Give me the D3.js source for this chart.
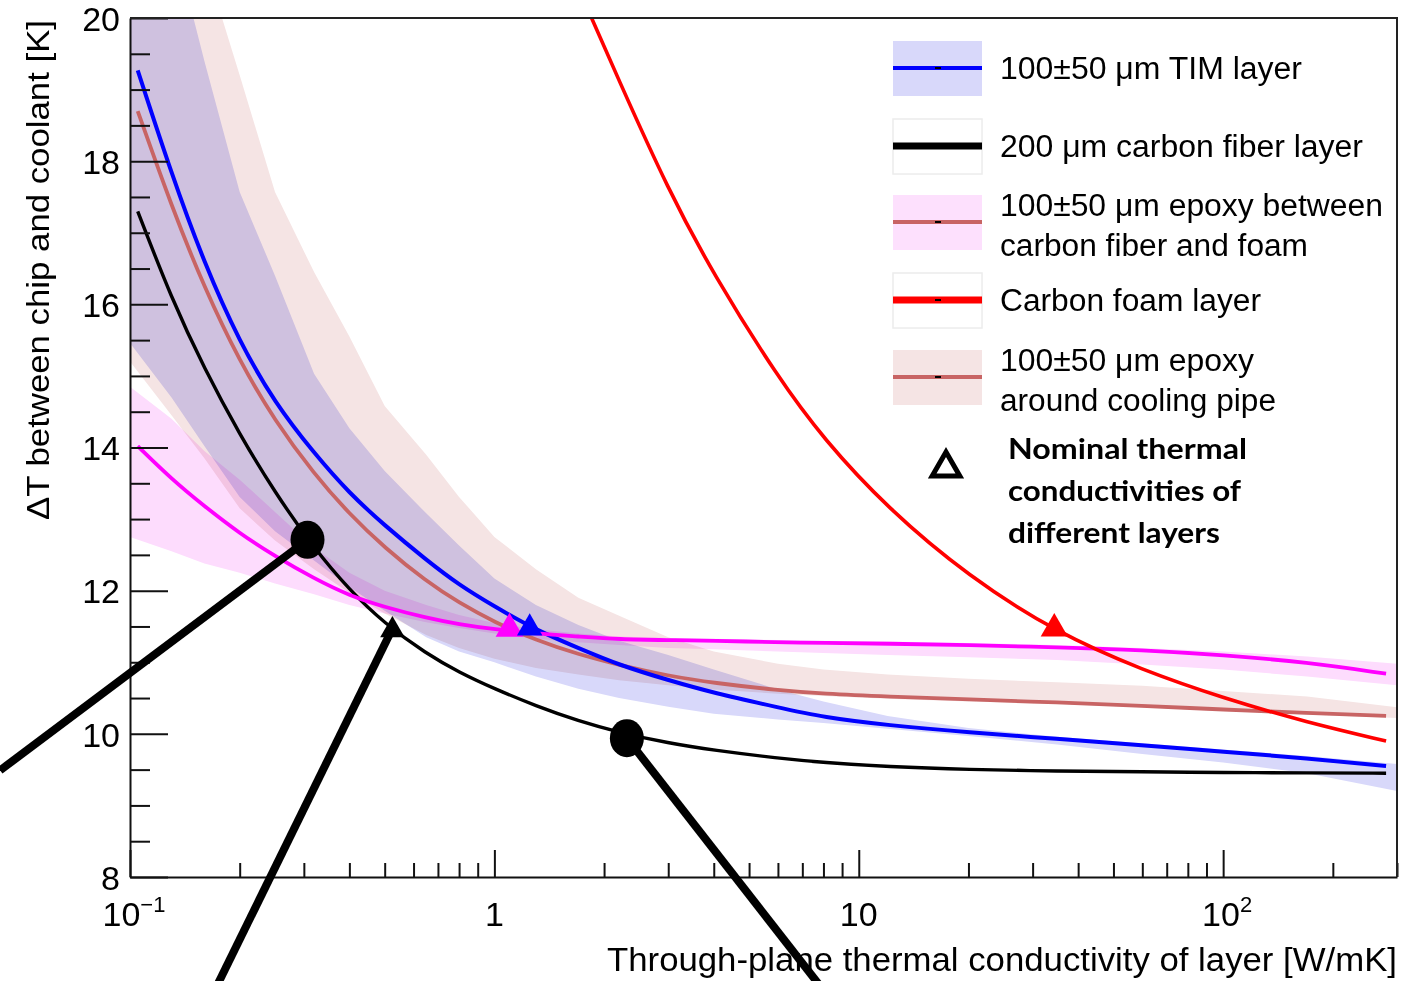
<!DOCTYPE html>
<html>
<head>
<meta charset="utf-8">
<script src="https://cdn.jsdelivr.net/npm/d3@7"></script>
<style>
  body { margin: 0; background: #fff; }
  text { font-family: "Liberation Sans", Arial, sans-serif; fill: #000; }
</style>
</head>
<body>
<div id="chart"></div>
<script>
// thermal conductivity of the varied layer [W/mK], grid for the curves
var kCurve = [0.105, 0.13, 0.16, 0.2, 0.25, 0.32, 0.4, 0.5, 0.65, 0.8, 1, 1.3, 1.7, 2.2, 3, 4, 6, 8, 12, 20, 35, 60, 100, 170, 280];
// delta T chip-coolant [K] for each layer
var dtTim         = [19.27, 17.82, 16.57, 15.47, 14.62, 13.92, 13.36, 12.91, 12.43, 12.08, 11.78, 11.45, 11.2, 10.96, 10.75, 10.57, 10.37, 10.23, 10.12, 10.02, 9.93, 9.84, 9.75, 9.66, 9.55];
var dtCarbonFiber = [17.3, 16.08, 15.1, 14.18, 13.37, 12.59, 12.01, 11.54, 11.12, 10.86, 10.63, 10.39, 10.18, 10.02, 9.87, 9.77, 9.66, 9.6, 9.54, 9.5, 9.48, 9.47, 9.46, 9.455, 9.45];
var dtEpoxyFoam   = [14.02, 13.56, 13.18, 12.8, 12.48, 12.17, 11.93, 11.77, 11.62, 11.53, 11.46, 11.4, 11.36, 11.32, 11.31, 11.3, 11.28, 11.27, 11.26, 11.24, 11.21, 11.17, 11.1, 11.0, 10.84];
var dtEpoxyPipe   = [18.7, 17.37, 16.23, 15.2, 14.37, 13.63, 13.07, 12.6, 12.13, 11.83, 11.56, 11.31, 11.11, 10.96, 10.81, 10.71, 10.61, 10.56, 10.52, 10.48, 10.44, 10.39, 10.34, 10.29, 10.25];
// carbon foam curve, only the part inside the frame
var kFoam  = [1.7, 2.2, 3, 4, 6, 8, 12, 20, 35, 60, 100, 170, 280];
var dtFoam = [20.42, 19.12, 17.6, 16.41, 14.98, 14.12, 13.15, 12.2, 11.41, 10.89, 10.5, 10.16, 9.9];

// +-50 um thickness bands
var kBand = [0.1, 0.13, 0.16, 0.2, 0.25, 0.32, 0.4, 0.5, 0.65, 0.8, 1, 1.3, 1.7, 2.2, 3, 4, 6, 8, 12, 20, 35, 60, 100, 170, 300];
var timLo  = [15.46, 14.7, 14.02, 13.31, 12.83, 12.42, 12.05, 11.72, 11.35, 11.15, 11.0, 10.8, 10.63, 10.5, 10.38, 10.28, 10.2, 10.15, 10.07, 9.97, 9.85, 9.72, 9.6, 9.45, 9.2];
var timHi  = [22.5, 21.2, 19.4, 17.57, 16.4, 15.03, 14.27, 13.67, 13.08, 12.63, 12.17, 11.8, 11.52, 11.3, 11.1, 10.9, 10.62, 10.45, 10.25, 10.08, 9.96, 9.87, 9.78, 9.69, 9.58];
var epoxyFoamLo = [12.75, 12.55, 12.38, 12.25, 12.1, 11.95, 11.8, 11.68, 11.56, 11.48, 11.4, 11.33, 11.28, 11.24, 11.2, 11.18, 11.15, 11.13, 11.1, 11.07, 11.03, 10.97, 10.9, 10.8, 10.68];
var epoxyFoamHi = [14.85, 14.4, 13.95, 13.55, 13.1, 12.6, 12.25, 12.0, 11.8, 11.66, 11.55, 11.46, 11.4, 11.36, 11.34, 11.33, 11.31, 11.3, 11.29, 11.27, 11.24, 11.2, 11.15, 11.08, 10.98];
var epoxyPipeLo = [15.2, 14.45, 13.85, 13.15, 12.7, 12.3, 11.97, 11.68, 11.38, 11.2, 11.05, 10.92, 10.83, 10.75, 10.68, 10.62, 10.56, 10.53, 10.49, 10.45, 10.42, 10.37, 10.32, 10.27, 10.22];
var epoxyPipeHi = [23, 22, 20.8, 19.2, 17.57, 16.45, 15.55, 14.58, 13.9, 13.31, 12.75, 12.3, 11.9, 11.65, 11.35, 11.15, 10.98, 10.9, 10.83, 10.77, 10.72, 10.67, 10.6, 10.52, 10.37];

// nominal conductivities (triangles): carbon fiber, epoxy CF-foam, TIM, foam
var nominalK  = [0.525, 1.10, 1.25, 34.4];
var nominalDT = [11.42, 11.44, 11.45, 11.44];

// hand-drawn pointers over the plot (start on curve, end off frame)
var calloutStartK  = [0.307, 0.526, 2.31];
var calloutStartDT = [12.71, 11.48, 9.94];
var calloutEndK    = [0.044, 0.174, 7.77];
var calloutEndDT   = [9.49, 6.5, 6.5];
var calloutDot     = [true, false, true];

var yTicks = [8, 10, 12, 14, 16, 18, 20];
var xTicks = [0.1, 1, 10, 100];
var xTickBase = ["10", "1", "10", "10"];
var xTickExp  = ["\u22121", "", "", "2"];

var legendLabels = [
  ["100\u00b150 \u03bcm TIM layer"],
  ["200 \u03bcm carbon fiber layer"],
  ["100\u00b150 \u03bcm epoxy between", "carbon fiber and foam"],
  ["Carbon foam layer"],
  ["100\u00b150 \u03bcm epoxy", "around cooling pipe"]
];
var nominalLabel = ["Nominal thermal", "conductivities of", "different layers"];

drawChart();
function drawChart(){
    var width = 1406, height = 981;
    var left = 130, right = 1397, top = 18, bottom = 877;

    var svg = d3.select("#chart").append("svg")
        .attr("width", width)
        .attr("height", height);

    var x = d3.scaleLog().domain([0.1, 300]).range([left, right]);
    var y = d3.scaleLinear().domain([8, 20]).range([bottom, top]);

    svg.append("clipPath").attr("id", "plotclip")
      .append("rect")
        .attr("x", left).attr("y", top)
        .attr("width", right - left).attr("height", bottom - top);

    var plot = svg.append("g").attr("clip-path", "url(#plotclip)");

    function zip(ks, a, b){
        return ks.map(function(k, i){ return {k: k, lo: a[i], hi: b ? b[i] : a[i]}; });
    }

    // bands, blended like overlapping transparent fills
    var area = d3.area()
        .x(function(d){ return x(d.k); })
        .y0(function(d){ return y(d.lo); })
        .y1(function(d){ return y(d.hi); });

    var bands = [
        {lo: epoxyPipeLo, hi: epoxyPipeHi, color: "#f5e4e4"},
        {lo: epoxyFoamLo, hi: epoxyFoamHi, color: "#fddcfd"},
        {lo: timLo, hi: timHi, color: "#d8d8fa"}
    ];
    bands.forEach(function(b){
        plot.append("path")
            .datum(zip(kBand, b.lo, b.hi))
            .attr("d", area)
            .attr("fill", b.color)
            .style("mix-blend-mode", "multiply");
    });

    var line = d3.line()
        .x(function(d){ return x(d.k); })
        .y(function(d){ return y(d.lo); })
        .curve(d3.curveBasis);

    var curves = [
        {k: kCurve, v: dtEpoxyPipe, color: "#c86464", w: 3.8},
        {k: kCurve, v: dtTim, color: "#0000ff", w: 4},
        {k: kCurve, v: dtCarbonFiber, color: "#000000", w: 3.4},
        {k: kCurve, v: dtEpoxyFoam, color: "#ff00ff", w: 3.8},
        {k: kFoam, v: dtFoam, color: "#ff0000", w: 3.6}
    ];
    curves.forEach(function(c){
        plot.append("path")
            .datum(zip(c.k, c.v))
            .attr("d", line)
            .attr("fill", "none")
            .attr("stroke", c.color)
            .attr("stroke-width", c.w);
    });

    // nominal markers
    var triColors = ["#000000", "#ff00ff", "#0000ff", "#ff0000"];
    var triSize = [260, 330, 280, 320];
    plot.selectAll(".nominal")
        .data(nominalK)
        .enter()
        .append("path")
        .attr("class", "nominal")
        .attr("d", function(d, i){ return d3.symbol().type(d3.symbolTriangle).size(triSize[i])(); })
        .attr("transform", function(d, i){ return "translate(" + x(d) + "," + (y(nominalDT[i]) - 2) + ")"; })
        .attr("fill", function(d, i){ return triColors[i]; });

    // y axis
    var yMinor = d3.range(8, 20.01, 0.5).filter(function(v){ return v % 2 !== 0; });
    svg.append("g")
        .attr("transform", "translate(" + left + ",0)")
        .call(d3.axisLeft(y).tickValues(yMinor).tickSizeInner(-20).tickSizeOuter(0).tickFormat(""))
        .call(function(g){ g.select(".domain").remove(); });
    var yAxis = svg.append("g")
        .attr("transform", "translate(" + left + ",0)")
        .call(d3.axisLeft(y).tickValues(yTicks).tickSizeInner(-38).tickSizeOuter(0).tickPadding(10).tickFormat(d3.format("d")));
    yAxis.selectAll("text")
        .attr("font-size", 34)
        .attr("font-family", "'Liberation Sans', Arial, sans-serif")
        .attr("dy", "0.36em");

    // x axis
    var xMinor = [];
    [0.1, 1, 10, 100].forEach(function(dec){
        for (var m = 2; m <= 9; m++) { if (dec * m <= 300) xMinor.push(dec * m); }
    });
    svg.append("g")
        .attr("transform", "translate(0," + bottom + ")")
        .call(d3.axisBottom(x).tickValues(xMinor).tickSizeInner(-14).tickSizeOuter(0).tickFormat(""))
        .call(function(g){ g.select(".domain").remove(); });
    svg.append("g")
        .attr("transform", "translate(0," + bottom + ")")
        .call(d3.axisBottom(x).tickValues(xTicks).tickSizeInner(-27).tickSizeOuter(0).tickFormat(""));

    svg.selectAll(".tick line").attr("stroke", "#111").attr("stroke-width", 2);
    svg.selectAll(".domain").attr("stroke", "#111").attr("stroke-width", 2);

    xTicks.forEach(function(v, i){
        var t = svg.append("text")
            .attr("x", x(v) + (xTickExp[i] ? 4 : 0))
            .attr("y", 926)
            .attr("font-size", 34)
            .attr("text-anchor", "middle");
        t.append("tspan").text(xTickBase[i]);
        if (xTickExp[i]) {
            t.append("tspan").attr("dy", -14).attr("font-size", 22).text(xTickExp[i]);
        }
    });

    // frame top and right
    svg.append("path")
        .attr("d", "M" + left + "," + top + "H" + right + "V" + bottom)
        .attr("fill", "none")
        .attr("stroke", "#222")
        .attr("stroke-width", 2);

    // axis titles
    svg.append("text")
        .attr("x", right)
        .attr("y", 971)
        .attr("text-anchor", "end")
        .attr("font-size", 34)
        .attr("textLength", 790)
        .attr("lengthAdjust", "spacingAndGlyphs")
        .text("Through-plane thermal conductivity of layer [W/mK]");
    svg.append("text")
        .attr("transform", "translate(49,270) rotate(-90)")
        .attr("text-anchor", "middle")
        .attr("font-size", 32)
        .attr("textLength", 500)
        .attr("lengthAdjust", "spacingAndGlyphs")
        .text("\u0394T between chip and coolant [K]");

    // legend
    var rowY = [68, 146, 222, 300, 377];
    var legStyle = [
        {fill: "#d8d8fa", stroke: null, line: "#0000ff", w: 4},
        {fill: "#ffffff", stroke: "#ececec", line: "#000000", w: 7},
        {fill: "#fde0fd", stroke: null, line: "#c86464", w: 4},
        {fill: "#ffffff", stroke: "#ececec", line: "#ff0000", w: 7},
        {fill: "#f5e4e4", stroke: null, line: "#c86464", w: 4}
    ];
    var textWidth = [[302], [363], [383, 308], [261], [254, 276]];
    var legend = svg.append("g");
    legendLabels.forEach(function(lines, i){
        var cy = rowY[i], s = legStyle[i];
        legend.append("rect")
            .attr("x", 893).attr("y", cy - 27)
            .attr("width", 89).attr("height", 55)
            .attr("fill", s.fill)
            .attr("stroke", s.stroke || "none")
            .attr("stroke-width", 1.5);
        legend.append("line")
            .attr("x1", 893).attr("x2", 982)
            .attr("y1", cy).attr("y2", cy)
            .attr("stroke", s.line).attr("stroke-width", s.w);
        legend.append("rect")
            .attr("x", 935).attr("y", cy - 1)
            .attr("width", 6).attr("height", 2)
            .attr("fill", "#000");
        lines.forEach(function(str, j){
            var by = lines.length === 1 ? cy + 11 : cy - 17 + j * 40 + 11;
            legend.append("text")
                .attr("x", 1000)
                .attr("y", by)
                .attr("font-size", 31)
                .attr("textLength", textWidth[i][j])
                .attr("lengthAdjust", "spacingAndGlyphs")
                .text(str);
        });
    });

    legend.append("path")
        .attr("d", d3.symbol().type(d3.symbolTriangle).size(330)())
        .attr("transform", "translate(946,468)")
        .attr("fill", "none")
        .attr("stroke", "#000")
        .attr("stroke-width", 5);
    var nomWidth = [239, 233, 212];
    nominalLabel.forEach(function(str, j){
        legend.append("text")
            .attr("x", 1008)
            .attr("y", 459 + j * 42)
            .attr("font-size", 29)
            .attr("font-weight", "bold")
            .style("font-family", "Lato, 'Open Sans', sans-serif")
            .attr("fill", "#111")
            .attr("textLength", nomWidth[j])
            .attr("lengthAdjust", "spacingAndGlyphs")
            .text(str);
    });

    // pointers drawn over the figure
    var callouts = svg.append("g");
    calloutStartK.forEach(function(k, i){
        callouts.append("line")
            .attr("x1", x(k)).attr("y1", y(calloutStartDT[i]))
            .attr("x2", x(calloutEndK[i])).attr("y2", y(calloutEndDT[i]))
            .attr("stroke", "#000")
            .attr("stroke-width", 8);
        if (calloutDot[i]) {
            callouts.append("ellipse")
                .attr("cx", x(k)).attr("cy", y(calloutStartDT[i]))
                .attr("rx", 17).attr("ry", 19)
                .attr("fill", "#000");
        }
    });
}
</script>
</body>
</html>
